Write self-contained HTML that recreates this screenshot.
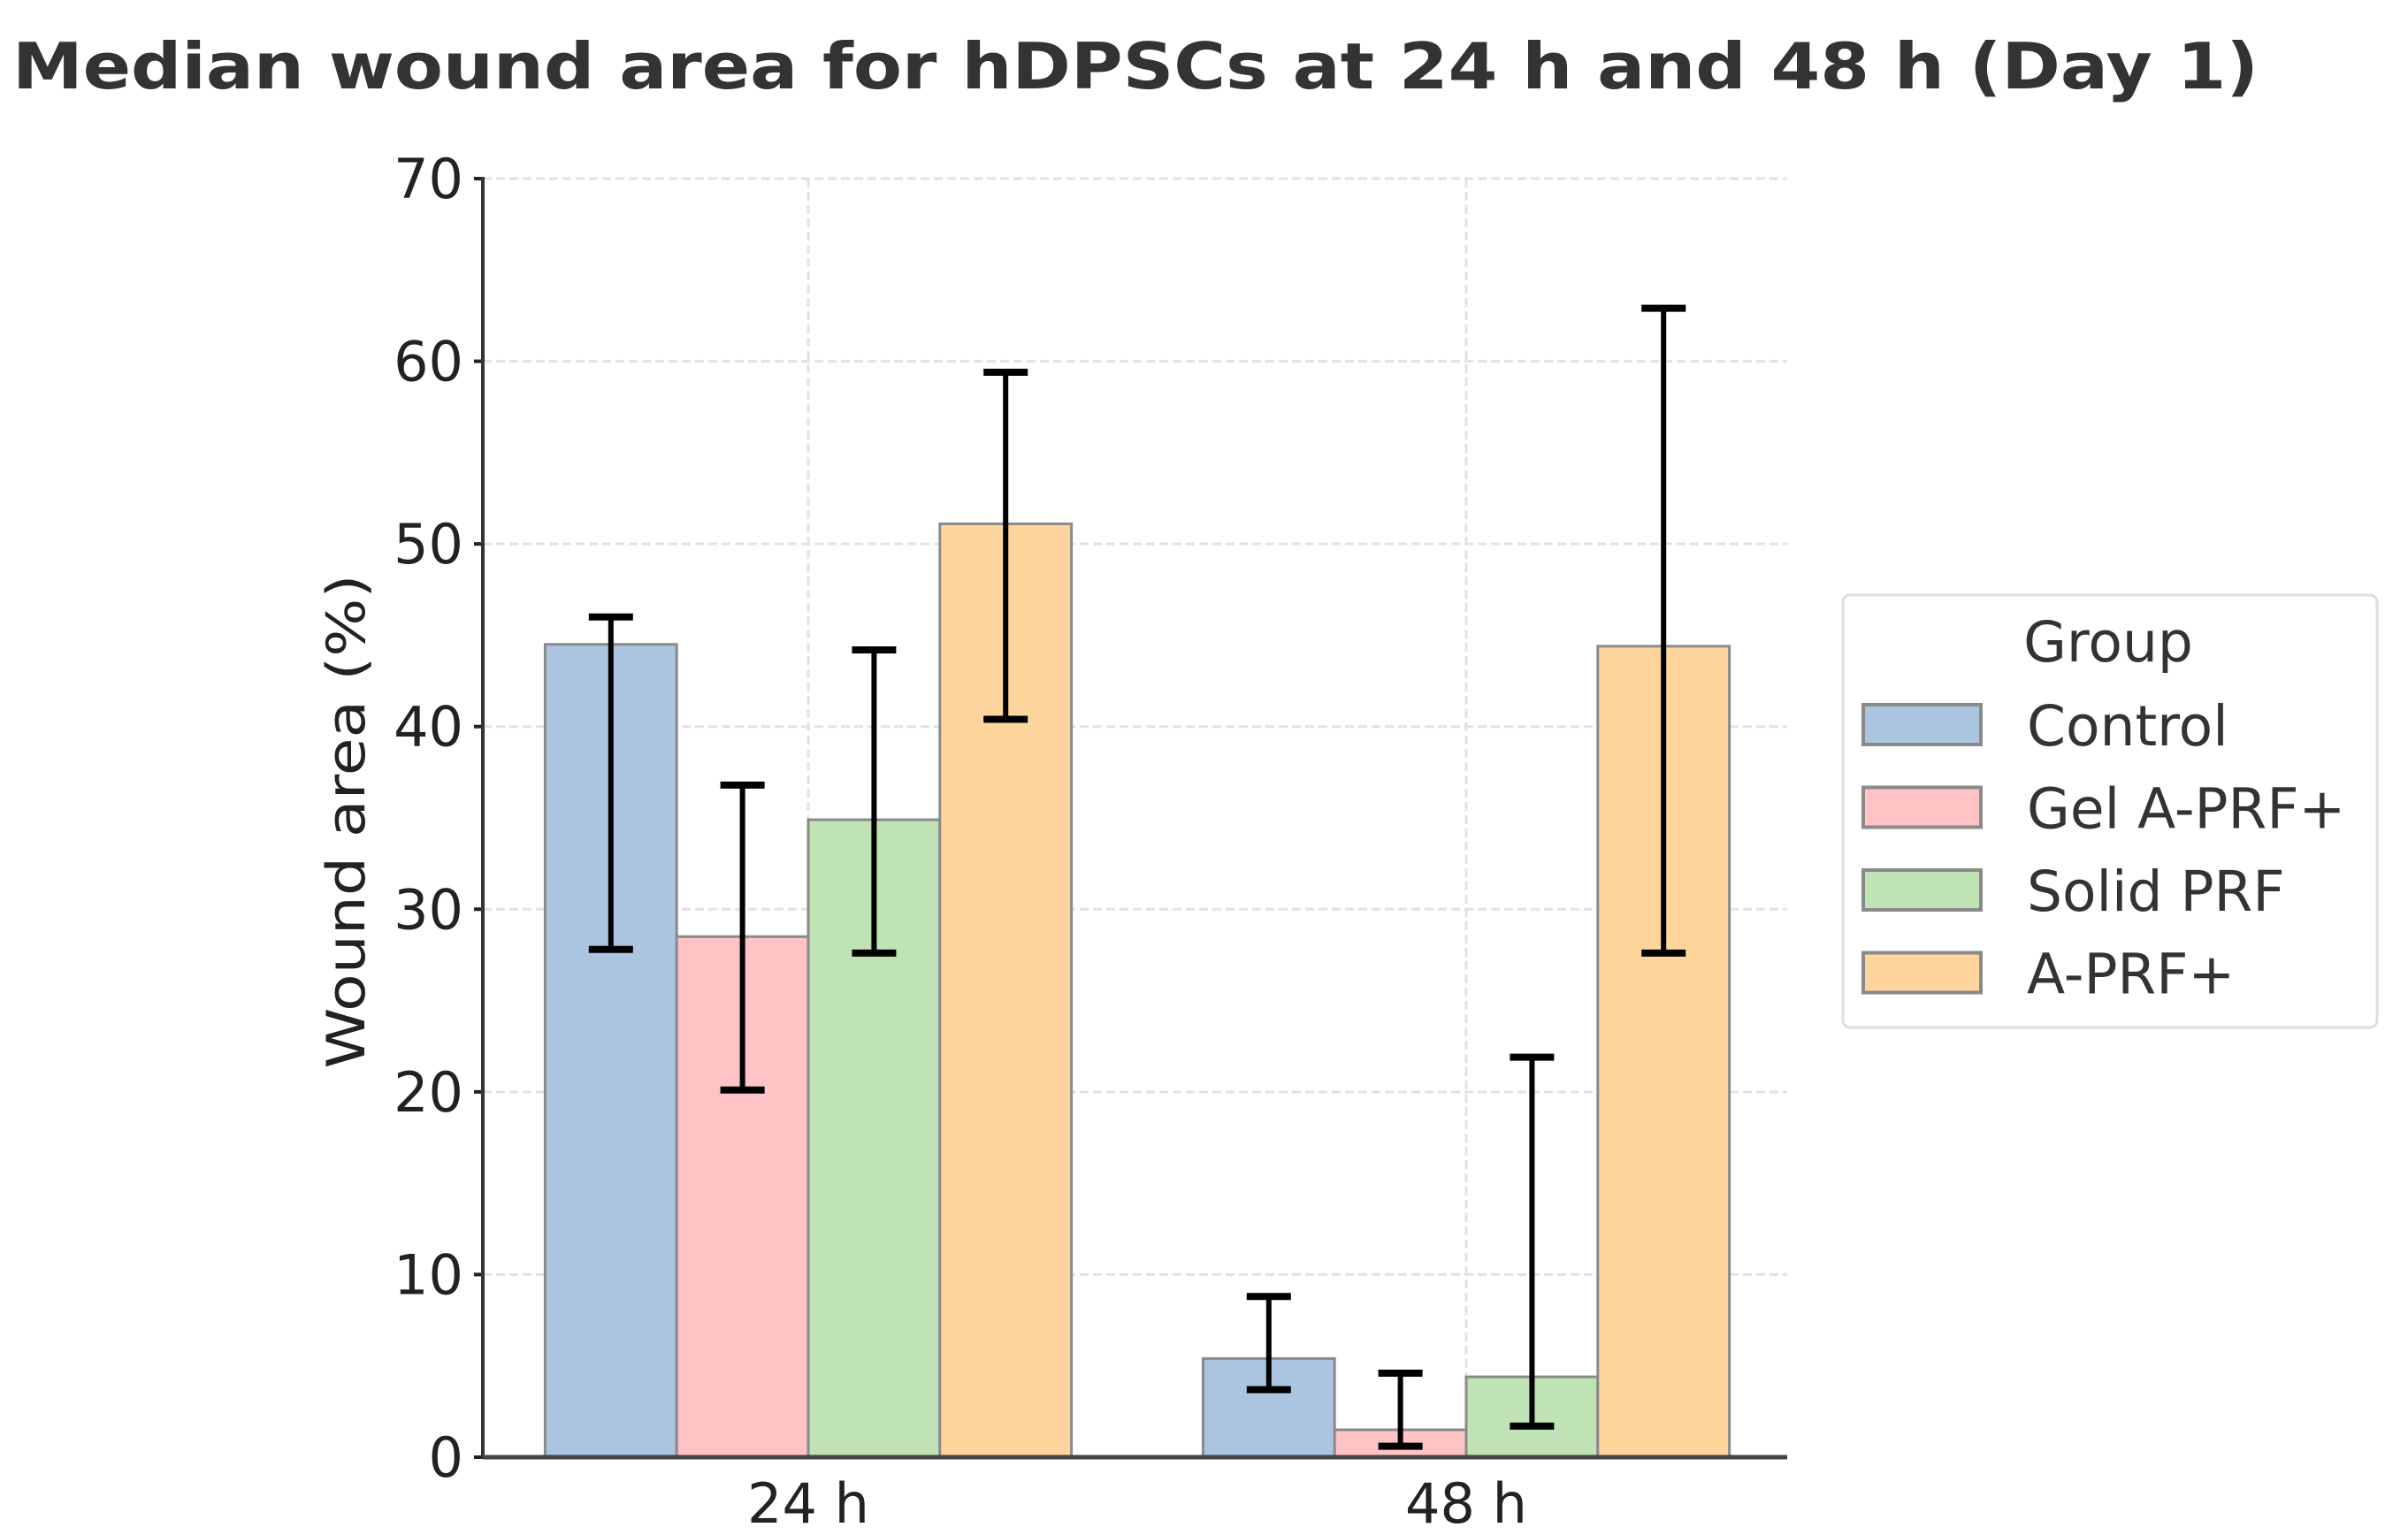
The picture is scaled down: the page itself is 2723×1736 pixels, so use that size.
<!DOCTYPE html>
<html><head><meta charset="utf-8"><style>
html,body{margin:0;padding:0;background:#fff;}
svg{display:block;font-family:"DejaVu Sans","Liberation Sans",sans-serif;}
</style></head><body>
<svg id="chart" width="2723" height="1736" viewBox="0 0 2723 1736">
<text x="14" y="100" font-size="72" font-weight="bold" fill="#333" textLength="2540" lengthAdjust="spacingAndGlyphs">Median wound area for hDPSCs at 24 h and 48 h (Day 1)</text>
<g id="grid"></g>
<g id="bars"></g>
<g id="errs"></g>
<g id="axes"></g>
<text transform="translate(412,929) rotate(-90)" text-anchor="middle" font-size="60" fill="#222" textLength="559" lengthAdjust="spacingAndGlyphs">Wound area (%)</text>
<g id="legend"></g>
</svg>
<script>
const categories = ["24 h", "48 h"];
const groups = ["Control", "Gel A-PRF+", "Solid PRF", "A-PRF+"];
const control = [44.5, 5.4];
const gel = [28.5, 1.5];
const solid = [34.9, 4.4];
const aprf = [51.1, 44.4];
const controlLo = [27.8, 3.7];
const controlHi = [46.0, 8.8];
const gelLo = [20.1, 0.6];
const gelHi = [36.8, 4.6];
const solidLo = [27.6, 1.7];
const solidHi = [44.2, 21.9];
const aprfLo = [40.4, 27.6];
const aprfHi = [59.4, 62.9];
const yTicks = [0, 10, 20, 30, 40, 50, 60, 70];

const series = [control, gel, solid, aprf];
const los = [controlLo, gelLo, solidLo, aprfLo];
const his = [controlHi, gelHi, solidHi, aprfHi];
const colors = ["#abc4df", "#ffc3c5", "#bfe3b4", "#fed69d"];
const NS = "http://www.w3.org/2000/svg";
const X0 = 546, X1 = 2021, Y0 = 1648, Y70 = 202;
const xs = v => 914 + v * 744;
const ys = v => Y0 - v / 70 * (Y0 - Y70);
function mk(tag, attrs, parent) {
  const e = document.createElementNS(NS, tag);
  for (const k in attrs) e.setAttribute(k, attrs[k]);
  parent.appendChild(e);
  return e;
}
const grid = document.getElementById("grid");
const bars = document.getElementById("bars");
const errs = document.getElementById("errs");
const axes = document.getElementById("axes");
const legend = document.getElementById("legend");

yTicks.forEach(t => {
  if (t > 0) {
    const g = mk("line", {x1: X0, x2: X1, y1: ys(t), y2: ys(t), stroke: "#e2e2e2", "stroke-width": 3, "stroke-dasharray": "10 5"}, grid);
    
    
  }
  const tk = mk("line", {x1: X0 - 10, x2: X0, y1: ys(t), y2: ys(t), stroke: "#222", "stroke-width": 4}, axes);
  
  
  const lb = mk("text", {x: 524, y: ys(t) + 22, "text-anchor": "end", "font-size": 62, fill: "#222"}, axes);
  lb.textContent = t;
  
  
});
categories.forEach((c, i) => {
  const g = mk("line", {x1: xs(i), x2: xs(i), y1: Y70, y2: Y0, stroke: "#e2e2e2", "stroke-width": 3, "stroke-dasharray": "10 5"}, grid);
  
  
  const lb = mk("text", {x: xs(i), y: 1722, "text-anchor": "middle", "font-size": 62, fill: "#222"}, axes);
  lb.textContent = c;
  
  
});
const bw = 0.2;
series.forEach((s, j) => {
  s.forEach((v, i) => {
    const xc = xs(i + (j - 1.5) * bw);
    const w = bw * 744;
    const r = mk("rect", {x: xc - w / 2, y: ys(v), width: w, height: Y0 - ys(v), fill: colors[j], stroke: "#8a8a8a", "stroke-width": 3}, bars);
    
    
    const lo = ys(los[j][i]), hi = ys(his[j][i]);
    const eg = mk("g", {stroke: "#000", "stroke-width": 6}, errs);
    
    
    mk("line", {x1: xc, x2: xc, y1: lo, y2: hi}, eg);
    mk("line", {x1: xc - 25, x2: xc + 25, y1: lo, y2: lo, "stroke-width": 8}, eg);
    mk("line", {x1: xc - 25, x2: xc + 25, y1: hi, y2: hi, "stroke-width": 8}, eg);
  });
});
const ax = mk("line", {x1: X0, x2: X0, y1: Y70 - 2, y2: Y0 + 2, stroke: "#333", "stroke-width": 4}, axes);


const bx = mk("line", {x1: X0, x2: X1, y1: Y0, y2: Y0, stroke: "#444", "stroke-width": 5}, axes);



const box = mk("rect", {x: 2084, y: 673, width: 604, height: 489, rx: 8, fill: "#fff", stroke: "#ddd", "stroke-width": 3}, legend);


const lt = mk("text", {x: 2384, y: 748, "text-anchor": "middle", "font-size": 63, fill: "#333"}, legend);
lt.textContent = "Group";


groups.forEach((g, j) => {
  const top = 797 + j * 93.5;
  const e = mk("g", {}, legend);
  
  
  mk("rect", {x: 2107, y: top, width: 133, height: 45, fill: colors[j], stroke: "#8a8a8a", "stroke-width": 4}, e);
  const t = mk("text", {x: 2292, y: top + 46, "font-size": 63, fill: "#333"}, e);
  t.textContent = g;
});
</script>
</body></html>
